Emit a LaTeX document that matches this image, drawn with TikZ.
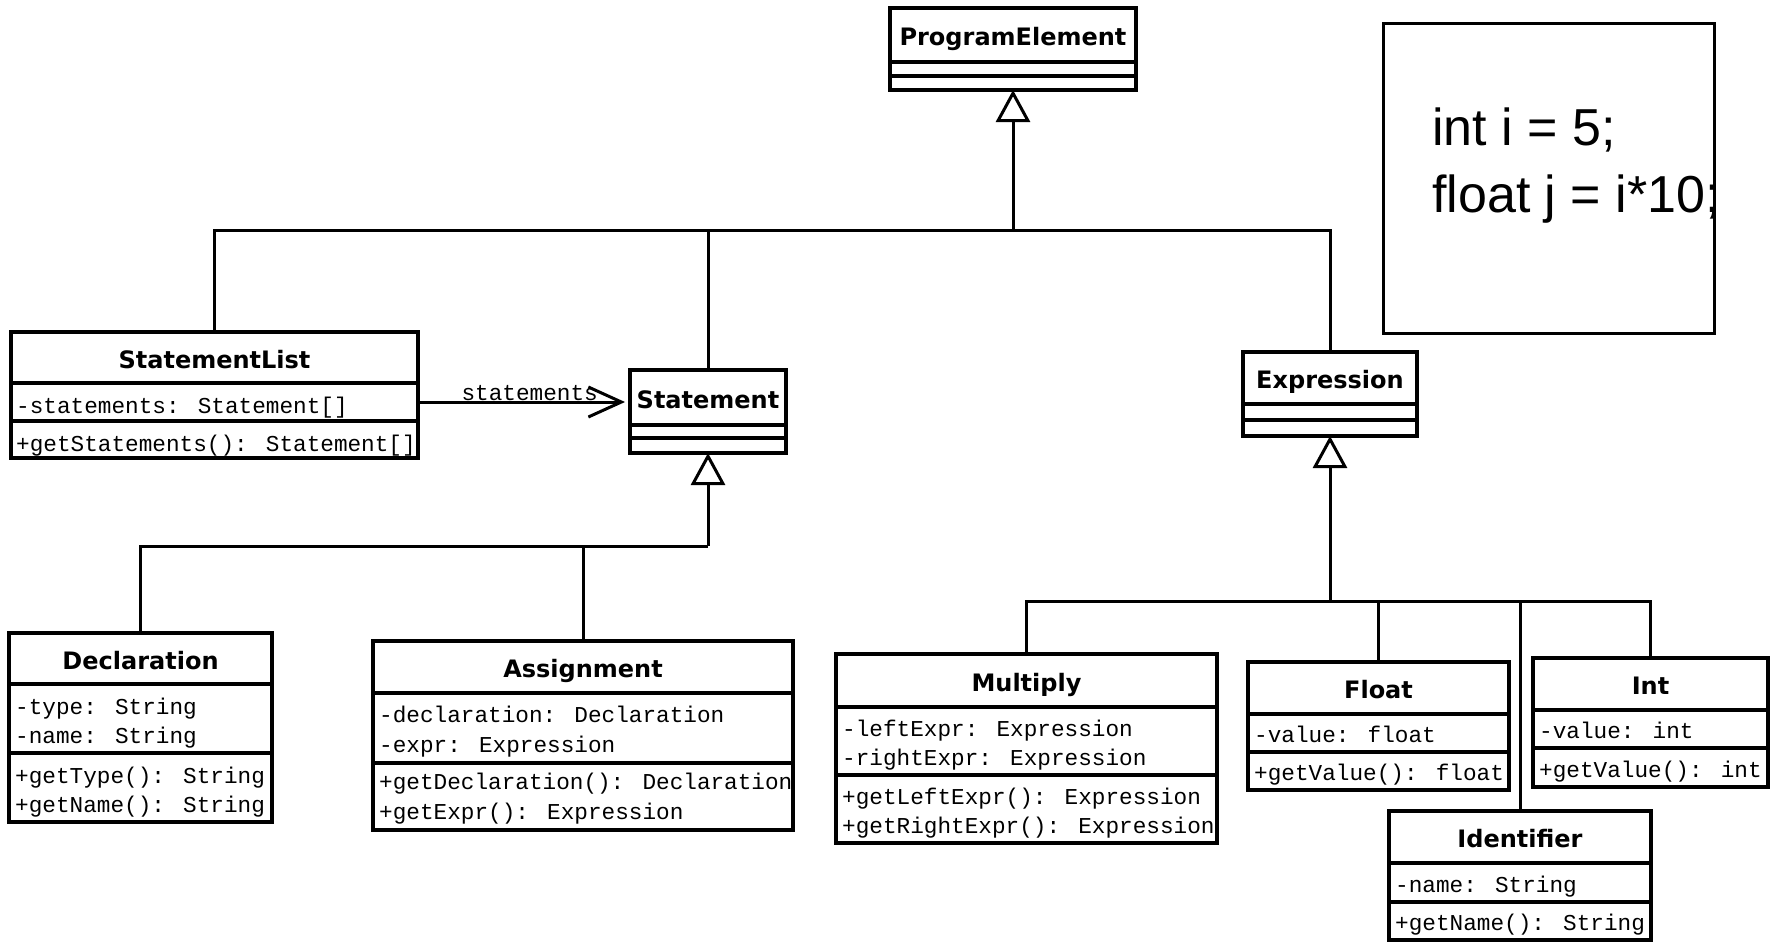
\documentclass[tikz,border=0pt]{standalone}
\usepackage{fontspec}
\usetikzlibrary{arrows.meta}
\newfontfamily\umlnamefont{DejaVu Sans}
\newfontfamily\umlmemberfont{Liberation Mono}
\newfontfamily\umlcodefont{Liberation Sans}

\tikzset{
  classbox/.style={draw, line width=3.2pt, rectangle, inner sep=0pt, outer sep=0pt, anchor=north west},
  umlsep/.style={line width=3.2pt},
  classname/.style={font={\umlnamefont\bfseries\fontsize{24}{28}\selectfont}, inner sep=0pt, anchor=base},
  member/.style={font={\umlmemberfont\fontsize{22.7}{28}\selectfont}, inner sep=0pt, anchor=base west},
  codetext/.style={font={\umlcodefont\fontsize{52}{60}\selectfont}, inner sep=0pt, anchor=base west},
  bus/.style={draw, line width=3pt},
  inherit/.style={draw, line width=3pt, -{Triangle[open, length=32pt, width=34pt]}},
  assoc/.style={draw, line width=3pt, -{Straight Barb[length=33pt, width=30pt]}},
}

% class box: name, left, top, right, first separator, second separator, bottom, title
\newcommand\umlclass[8]{%
  \node[classbox, minimum width={(#4-#2)*1pt}, minimum height={(#7-#3)*1pt}] (#1) at (#2,#3) {};
  \draw[umlsep] (#2,#5) -- (#4,#5);
  \draw[umlsep] (#2,#6) -- (#4,#6);
  \node[classname] (#1-title) at ({(#2+#4)/2},{(#3+#5)/2+10.5}) {#8};
}

\begin{document}
\begin{tikzpicture}[x=1pt,y=-1pt]
\useasboundingbox (0,0) rectangle (1771,942);

% classes
\umlclass{pe}{890}{8}{1136}{62}{76}{90}{ProgramElement}
\umlclass{sl}{11}{332}{418}{383}{421}{458}{StatementList}
\umlclass{st}{630}{370}{786}{425}{438}{453}{Statement}
\umlclass{ex}{1243}{352}{1417}{404}{420}{436}{Expression}
\umlclass{de}{9}{633}{272}{684}{753}{822}{Declaration}
\umlclass{as}{373}{641}{793}{693}{763}{830}{Assignment}
\umlclass{mu}{836}{654}{1217}{707}{775}{843}{Multiply}
\umlclass{fl}{1248}{662}{1509}{714}{752}{790}{Float}
\umlclass{in}{1533}{658}{1768}{710}{748}{787}{Int}
\umlclass{id}{1389}{811}{1651}{863}{902}{940}{Identifier}

% members
\node[member] (sl-a1) at (16,413) {-statements: Statement[]};
\node[member] (sl-m1) at (16,451) {+getStatements(): Statement[]};

\node[member] (de-a1) at (15,714) {-type: String};
\node[member] (de-a2) at (15,743) {-name: String};
\node[member] (de-m1) at (15,783) {+getType(): String};
\node[member] (de-m2) at (15,812) {+getName(): String};

\node[member] (as-a1) at (379,722) {-declaration: Declaration};
\node[member] (as-a2) at (379,752) {-expr: Expression};
\node[member] (as-m1) at (379,789) {+getDeclaration(): Declaration};
\node[member] (as-m2) at (379,819) {+getExpr(): Expression};

\node[member] (mu-a1) at (842,736) {-leftExpr: Expression};
\node[member] (mu-a2) at (842,765) {-rightExpr: Expression};
\node[member] (mu-m1) at (842,804) {+getLeftExpr(): Expression};
\node[member] (mu-m2) at (842,833) {+getRightExpr(): Expression};

\node[member] (fl-a1) at (1254,742) {-value: float};
\node[member] (fl-m1) at (1254,780) {+getValue(): float};

\node[member] (in-a1) at (1539,738) {-value: int};
\node[member] (in-m1) at (1539,777) {+getValue(): int};

\node[member] (id-a1) at (1395,892) {-name: String};
\node[member] (id-m1) at (1395,930) {+getName(): String};

% code sample
\node[classbox, line width=3pt, minimum width=331pt, minimum height=309pt] (code) at (1383,24) {};
\node[codetext] (code-l1) at (1432,145) {int i = 5;};
\node[codetext] (code-l2) at (1432,212) {float j = i*10;};

% generalisation to ProgramElement
\coordinate (bus1) at (0,230);
\draw[bus] (sl.north) |- (ex.north |- bus1) -- (ex.north);
\draw[bus] (st.north) -- (st.north |- bus1);
\draw[inherit] (pe.south |- bus1) -- (pe.south);

% generalisation to Statement
\coordinate (bus2) at (0,546);
\draw[bus] (de.north) |- (st.south |- bus2);
\draw[bus] (as.north) -- (as.north |- bus2);
\draw[inherit] (st.south |- bus2) -- (st.south);

% generalisation to Expression
\coordinate (bus3) at (0,601);
\draw[bus] (mu.north) |- (in.north |- bus3) -- (in.north);
\draw[bus] (fl.north) -- (fl.north |- bus3);
\draw[bus] (id.north) -- (id.north |- bus3);
\draw[inherit] (ex.south |- bus3) -- (ex.south);

% association StatementList -> Statement
\coordinate (assocy) at (0,402);
\draw[assoc, shorten >=5pt] (sl.east |- assocy) -- (st.west |- assocy);
\node[member, anchor=base east] (assoc-label) at (598,400) {statements};
\end{tikzpicture}
\end{document}
